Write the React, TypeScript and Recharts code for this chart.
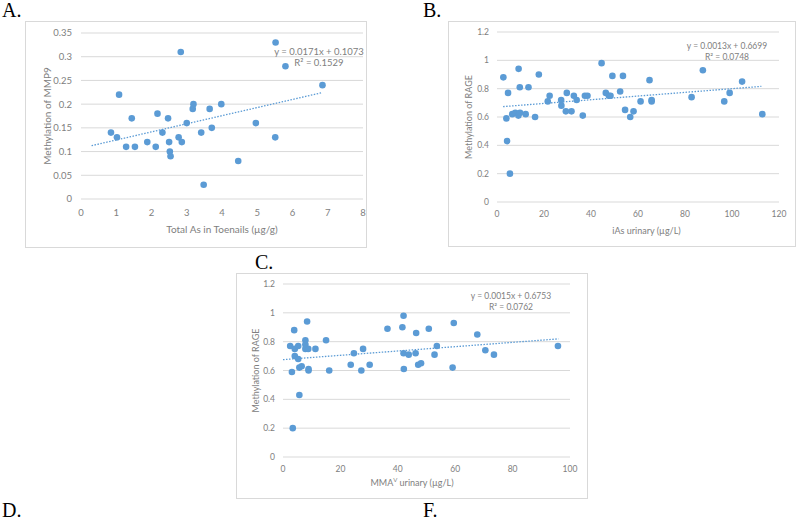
import { ScatterChart, Scatter, XAxis, YAxis, CartesianGrid, ReferenceLine, Label } from 'recharts'

// A. total As in toenails vs MMP9 methylation
const toenailAs = [0.85, 1.02, 1.08, 1.28, 1.44, 1.53, 1.88, 2.12, 2.17, 2.31, 2.47, 2.5, 2.52, 2.54, 2.77, 2.83, 2.86, 3.0, 3.17, 3.19, 3.41, 3.48, 3.65, 3.71, 3.98, 4.46, 4.96, 5.52, 5.51, 5.8, 6.85]
const mmp9Methylation = [0.14, 0.13, 0.22, 0.11, 0.17, 0.11, 0.12, 0.11, 0.18, 0.14, 0.17, 0.12, 0.1, 0.09, 0.13, 0.31, 0.12, 0.16, 0.19, 0.2, 0.14, 0.03, 0.19, 0.15, 0.2, 0.08, 0.16, 0.33, 0.13, 0.28, 0.24]

// B. urinary iAs vs RAGE methylation
const iAsUrinary = [2.7, 4.0, 4.3, 4.7, 5.5, 6.5, 7.8, 9.1, 9.2, 9.7, 9.8, 12.2, 13.4, 16.2, 17.8, 21.6, 22.4, 27.3, 27.4, 29.3, 29.7, 31.7, 32.7, 33.9, 36.5, 37.4, 38.5, 44.5, 46.3, 47.6, 48.3, 49.1, 52.4, 53.6, 54.5, 56.7, 58.1, 61.1, 64.9, 65.8, 65.8, 82.8, 87.6, 96.7, 99.0, 104.3, 112.9]
const rageByIAs = [0.88, 0.59, 0.43, 0.77, 0.2, 0.62, 0.63, 0.61, 0.94, 0.81, 0.63, 0.62, 0.81, 0.6, 0.9, 0.71, 0.75, 0.72, 0.68, 0.64, 0.77, 0.64, 0.75, 0.72, 0.61, 0.75, 0.75, 0.98, 0.77, 0.75, 0.75, 0.89, 0.78, 0.89, 0.65, 0.6, 0.64, 0.71, 0.86, 0.72, 0.71, 0.74, 0.93, 0.71, 0.77, 0.85, 0.62]

// C. urinary MMA(V) vs RAGE methylation
const mmaUrinary = [2.5, 3.1, 4.1, 3.9, 3.4, 4.1, 5.3, 5.3, 5.7, 5.7, 6.5, 7.8, 7.8, 7.8, 8.4, 8.8, 8.9, 8.9, 11.3, 15.0, 16.1, 23.6, 24.7, 27.3, 27.9, 30.2, 36.4, 41.6, 42.0, 42.0, 42.1, 43.8, 46.2, 46.4, 47.1, 48.1, 50.8, 52.8, 53.6, 59.1, 59.5, 67.7, 70.5, 73.5, 95.8]
const rageByMma = [0.77, 0.59, 0.75, 0.88, 0.2, 0.7, 0.68, 0.77, 0.43, 0.62, 0.63, 0.81, 0.78, 0.75, 0.94, 0.75, 0.6, 0.61, 0.75, 0.81, 0.6, 0.64, 0.72, 0.6, 0.75, 0.64, 0.89, 0.9, 0.98, 0.72, 0.61, 0.71, 0.72, 0.86, 0.64, 0.65, 0.89, 0.71, 0.77, 0.62, 0.93, 0.85, 0.74, 0.71, 0.77]

const ticksA = { x: [0, 1, 2, 3, 4, 5, 6, 7, 8], y: [0, 0.05, 0.1, 0.15, 0.2, 0.25, 0.3, 0.35] }
const ticksB = { x: [0, 20, 40, 60, 80, 100, 120], y: [0, 0.2, 0.4, 0.6, 0.8, 1, 1.2] }
const ticksC = { x: [0, 20, 40, 60, 80, 100], y: [0, 0.2, 0.4, 0.6, 0.8, 1, 1.2] }

const BLUE = '#5B9BD5'
const GRID = '#d9d9d9'
const TEXT = '#808080'
const FONT = 'Lato, "Open Sans", sans-serif'

const dot = (p: any) => <circle cx={p.cx} cy={p.cy} r={3.3} fill={BLUE} />

interface PanelProps {
  box: { left: number; top: number; width: number; height: number }
  plot: { left: number; top: number; right: number; bottom: number }
  xs: number[]
  ys: number[]
  xTicks: number[]
  yTicks: number[]
  fontSize: number
  xTitle: React.ReactNode
  xTitleDx: number
  xTitleDy: number
  yTitle: string
  yTitleX: number
  trend: { slope: number; intercept: number; from: number; to: number }
  tickMarginX: number
  tickMarginY: number
}

function Panel(p: PanelProps) {
  const data = p.xs.map((x, i) => ({ x, y: p.ys[i] }))
  const t = p.trend
  const tickStyle = { fill: TEXT, fontSize: p.fontSize, fontFamily: FONT }
  return (
    <>
      <div
        style={{
          position: 'absolute',
          left: p.box.left,
          top: p.box.top,
          width: p.box.width,
          height: p.box.height,
          border: `1px solid ${GRID}`,
          boxSizing: 'border-box',
        }}
      />
      <div style={{ position: 'absolute', left: p.box.left, top: p.box.top }}>
        <ScatterChart
          width={p.box.width}
          height={p.box.height}
          margin={{ top: p.plot.top, right: p.plot.right, left: 0, bottom: 0 }}
        >
          <CartesianGrid vertical={false} stroke={GRID} />
          <XAxis
            type="number"
            dataKey="x"
            domain={[p.xTicks[0], p.xTicks[p.xTicks.length - 1]]}
            ticks={p.xTicks}
            height={p.plot.bottom}
            axisLine={false}
            tickLine={false}
            tickMargin={p.tickMarginX}
            tick={tickStyle}
            interval={0}
          >
            <Label
              content={(lp: any) => {
                const vb = lp.viewBox
                return (
                  <text
                    x={vb.x + vb.width / 2 + p.xTitleDx}
                    y={vb.y + p.xTitleDy}
                    textAnchor="middle"
                    dominantBaseline="central"
                    fill={TEXT}
                    fontSize={p.fontSize + 0.5}
                    fontFamily={FONT}
                  >
                    {p.xTitle}
                  </text>
                )
              }}
            />
          </XAxis>
          <YAxis
            type="number"
            dataKey="y"
            domain={[p.yTicks[0], p.yTicks[p.yTicks.length - 1]]}
            ticks={p.yTicks}
            width={p.plot.left}
            axisLine={false}
            tickLine={false}
            tickMargin={p.tickMarginY}
            tick={tickStyle}
            interval={0}
          >
            <Label
              content={(lp: any) => {
                const vb = lp.viewBox
                const cy = vb.y + vb.height / 2
                return (
                  <text
                    x={p.yTitleX}
                    y={cy}
                    transform={`rotate(-90, ${p.yTitleX}, ${cy})`}
                    textAnchor="middle"
                    dominantBaseline="central"
                    fill={TEXT}
                    fontSize={p.fontSize + 0.5}
                    fontFamily={FONT}
                  >
                    {p.yTitle}
                  </text>
                )
              }}
            />
          </YAxis>
          <ReferenceLine
            segment={[
              { x: t.from, y: t.slope * t.from + t.intercept },
              { x: t.to, y: t.slope * t.to + t.intercept },
            ]}
            stroke={BLUE}
            strokeWidth={1.3}
            strokeDasharray="1.5 1.5"
            ifOverflow="visible"
          />
          <Scatter data={data} shape={dot} isAnimationActive={false} />
        </ScatterChart>
      </div>
    </>
  )
}

function Equation({ cx, top, lines, fontSize }: { cx: number; top: number; lines: string[]; fontSize: number }) {
  return (
    <div
      style={{
        position: 'absolute',
        left: cx - 60,
        top,
        width: 120,
        textAlign: 'center',
        color: TEXT,
        fontFamily: FONT,
        fontSize,
        lineHeight: '11px',
        whiteSpace: 'nowrap',
      }}
    >
      {lines.map((l) => (
        <div key={l}>{l}</div>
      ))}
    </div>
  )
}

function Letter({ x, top, text }: { x: number; top: number; text: string }) {
  return (
    <div
      style={{
        position: 'absolute',
        left: x,
        top,
        fontFamily: '"Liberation Serif", "DejaVu Serif", serif',
        fontSize: 20,
        lineHeight: '20px',
        color: '#000',
      }}
    >
      {text}
    </div>
  )
}

export default function App() {
  return (
    <div
      style={{
        position: 'absolute',
        left: 0,
        top: 0,
        width: 800,
        height: 522,
        background: '#fff',
        overflow: 'hidden',
      }}
    >
      <Letter x={2} top={0} text="A." />
      <Letter x={423} top={0} text="B." />
      <Letter x={255} top={252} text="C." />
      <Letter x={2} top={500} text="D." />
      <Letter x={423} top={500} text="F." />

      <Panel
        box={{ left: 25, top: 21, width: 342, height: 227 }}
        plot={{ left: 56, top: 12, right: 4, bottom: 49 }}
        xs={toenailAs}
        ys={mmp9Methylation}
        xTicks={ticksA.x}
        yTicks={ticksA.y}
        fontSize={9.5}
        xTitle="Total As in Toenails (µg/g)"
        xTitleDx={0}
        xTitleDy={30}
        yTitle="Methylation of MMP9"
        yTitleX={22}
        trend={{ slope: 0.0171, intercept: 0.1073, from: 0.3, to: 6.85 }}
        tickMarginX={4}
        tickMarginY={3}
      />
      <Equation cx={319} top={46} lines={['y = 0.0171x + 0.1073', 'R² = 0.1529']} fontSize={9.5} />

      <Panel
        box={{ left: 448, top: 21, width: 348, height: 226 }}
        plot={{ left: 49, top: 11, right: 17, bottom: 45 }}
        xs={iAsUrinary}
        ys={rageByIAs}
        xTicks={ticksB.x}
        yTicks={ticksB.y}
        fontSize={8.5}
        xTitle="iAs urinary (µg/L)"
        xTitleDx={8.5}
        xTitleDy={28}
        yTitle="Methylation of RAGE"
        yTitleX={20}
        trend={{ slope: 0.0013, intercept: 0.6699, from: 2.6, to: 112.5 }}
        tickMarginX={3}
        tickMarginY={2}
      />
      <Equation cx={727} top={41} lines={['y = 0.0013x + 0.6699', 'R² = 0.0748']} fontSize={8.5} />

      <Panel
        box={{ left: 236, top: 273, width: 352, height: 226 }}
        plot={{ left: 47, top: 11, right: 18, bottom: 42 }}
        xs={mmaUrinary}
        ys={rageByMma}
        xTicks={ticksC.x}
        yTicks={ticksC.y}
        fontSize={8.5}
        xTitle={
          <>
            MMA<tspan fontSize={6} dy={-3}>V</tspan>
            <tspan dy={3}> urinary (µg/L)</tspan>
          </>
        }
        xTitleDx={-14.5}
        xTitleDy={25}
        yTitle="Methylation of RAGE"
        yTitleX={19}
        trend={{ slope: 0.0015, intercept: 0.6753, from: 0, to: 96 }}
        tickMarginX={3}
        tickMarginY={2}
      />
      <Equation cx={511} top={291} lines={['y = 0.0015x + 0.6753', 'R² = 0.0762']} fontSize={8.5} />
    </div>
  )
}
